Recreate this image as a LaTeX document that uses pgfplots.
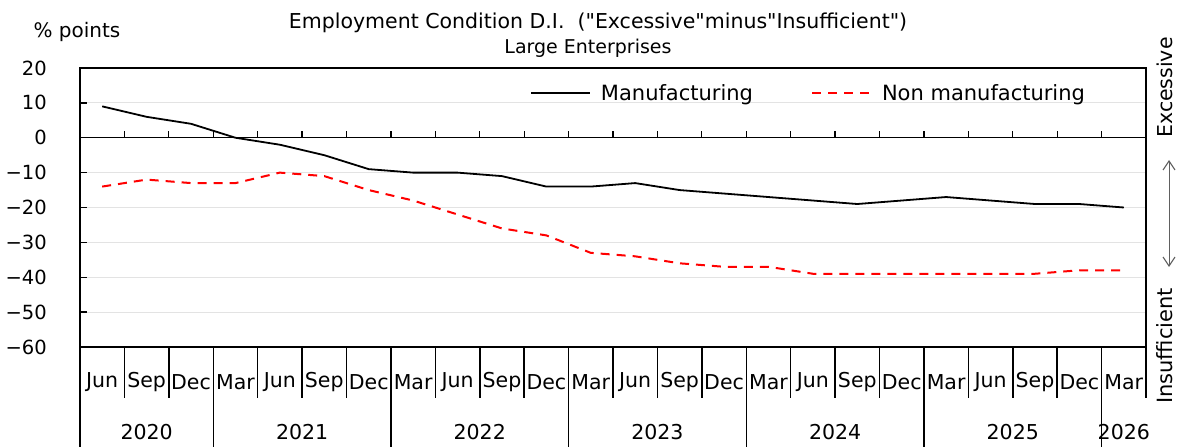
\documentclass[border=0pt]{standalone}
\usepackage{pgfplots}
\pgfplotsset{compat=1.18}
\usepackage{fontspec}
\setmainfont{DejaVu Sans}
\usetikzlibrary{arrows.meta}
\newcommand\q{\XeTeXglyph\XeTeXcharglyph"22\relax}
\newcommand\fs[1]{\fontsize{#1pt}{#1pt}\selectfont}
\begin{document}
\begin{tikzpicture}[x=1pt,y=1pt]
\useasboundingbox (0,0) rectangle (1182,447);
\begin{axis}[
  scale only axis, width=1066pt, height=279pt,
  at={(80pt,100pt)}, anchor=south west,
  xmin=-0.5, xmax=23.5, ymin=-60, ymax=20,
  xtick=\empty,
  ytick={-60,-50,-40,-30,-20,-10,0,10,20},
  yticklabels={−60,−50,−40,−30,−20,−10,0,10,20},
  ytick pos=left, tick align=inside, major tick length=7pt,
  yticklabel style={font=\fs{19.5}, inner sep=0pt, xshift=-33pt},
  ymajorgrids, grid style={gray!22, line width=0.8pt},
  axis line style={line width=1.4pt},
  every tick/.style={black, line width=1.3pt},
  clip=false,
  legend style={at={(rel axis cs:0.4221,0.9104)}, anchor=west, draw=none, fill=none,
    inner sep=0pt, font=\fs{21},
    /tikz/every odd column/.append style={column sep=8pt},
    /tikz/every even column/.append style={column sep=56pt}},
  legend columns=2,
  legend image code/.code={\draw[#1] (0pt,0pt) -- (59pt,0pt);},
]
\addplot[black, line width=1.8pt] coordinates {
 (0,9) (1,6) (2,4) (3,0) (4,-2) (5,-5) (6,-9) (7,-10) (8,-10) (9,-11) (10,-14) (11,-14)
 (12,-13) (13,-15) (14,-16) (15,-17) (16,-18) (17,-19) (18,-18) (19,-17) (20,-18) (21,-19) (22,-19) (23,-20)};
\addlegendentry{Manufacturing}
\addplot[red, line width=2pt, dash pattern=on 9pt off 7pt] coordinates {
 (0,-14) (1,-12) (2,-13) (3,-13) (4,-10) (5,-11) (6,-15) (7,-18) (8,-22) (9,-26) (10,-28) (11,-33)
 (12,-34) (13,-36) (14,-37) (15,-37) (16,-39) (17,-39) (18,-39) (19,-39) (20,-39) (21,-39) (22,-38) (23,-38)};
\addlegendentry{Non manufacturing}
\end{axis}
% zero line and its ticks (y of 0 = 100 + 60/80*279)
\draw[line width=1.4pt] (80,309.25) -- (1146,309.25);
\foreach \k in {1,...,23} {\draw[line width=1.3pt] ({80+\k*44.41667},309.25) -- ++(0,7);}
% category separators
\foreach \k in {1,2,4,5,6,8,9,10,12,13,14,16,17,18,20,21,22,24} {\draw[line width=1.5pt] ({80+\k*44.41667},100) -- ++(0,-51);}
\foreach \k in {0,3,7,11,15,19,23} {\draw[line width=1.5pt] ({80+\k*44.41667},100) -- ++(0,-100);}
% month labels
\foreach \m [count=\i from 0] in {Jun,Sep,Dec,Mar,Jun,Sep,Dec,Mar,Jun,Sep,Dec,Mar,Jun,Sep,Dec,Mar,Jun,Sep,Dec,Mar,Jun,Sep,Dec,Mar}
  {\node[font=\fs{20.5}, inner sep=0pt] at ({80+(\i+0.5)*44.41667},65) {\m};}
% year labels
\foreach \x/\y in {1/2020,4.5/2021,8.5/2022,12.5/2023,16.5/2024,20.5/2025,23/2026}
  {\node[font=\fs{20.5}, inner sep=0pt] at ({80+(\x+0.5)*44.41667},15) {\y};}
% titles
\node[font=\fs{20.5}, inner sep=0pt] at (598,424) {Employment Condition D.I.~~(\q Excessive\q minus\q Insufficient\q)};
\node[font=\fs{19}, inner sep=0pt] at (588,399) {Large Enterprises};
\node[font=\fs{20}, inner sep=0pt] at (77,415) {\% points};
% right side
\node[rotate=90, font=\fs{20.5}, inner sep=0pt] at (1165,359.5) {Excessive};
\node[rotate=90, font=\fs{21}, inner sep=0pt] at (1165,101) {Insufficient};
\draw[gray!75!black, line width=1pt, {Straight Barb[length=9pt,width=12pt,line width=1.1pt]}-{Straight Barb[length=9pt,width=12pt,line width=1.1pt]}] (1169,287) -- (1169,180);
\end{tikzpicture}
\end{document}
